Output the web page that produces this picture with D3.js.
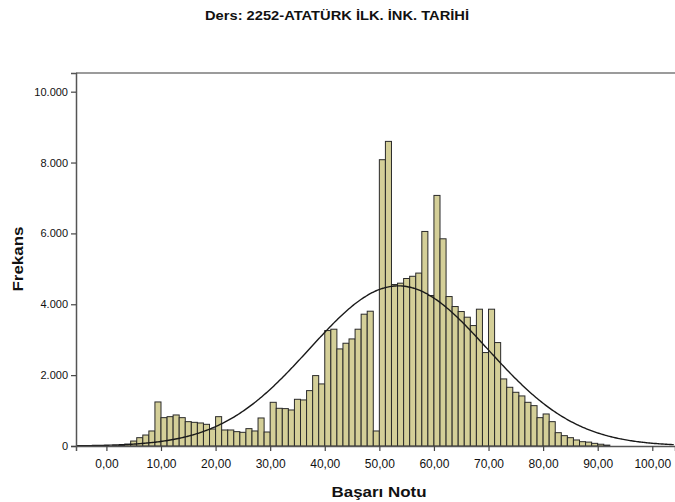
<!DOCTYPE html>
<html>
<head>
<meta charset="utf-8">
<script src="https://cdn.jsdelivr.net/npm/d3@7"></script>
<style>
  html, body { margin: 0; padding: 0; background: #fff; }
  svg { display: block; }
  text { font-family: "Liberation Sans", Arial, Helvetica, sans-serif; fill: #111; }
</style>
</head>
<body>
<svg id="chart" width="675" height="502"></svg>
<script>
// ---- data ----
const title = "Ders: 2252-ATATÜRK İLK. İNK. TARİHİ";
const xTitle = "Başarı Notu";
const yTitle = "Frekans";
const binWidth = 10 / 9;            // histogram bin width (score units)
const binOrigin = 0;                // first bin starts at 0,00
const counts = [
  0, 5, 15, 50, 140, 235, 310, 424, 1243, 800,
  828, 876, 800, 687, 668, 650, 612, 480, 828, 452,
  452, 405, 386, 490, 424, 791, 395, 1233, 1064, 1055,
  1017, 1318, 1300, 1563, 1987, 1752, 3258, 3296, 2740, 2900,
  3022, 3296, 3720, 3804, 424, 8080, 8597, 4557, 4595, 4727,
  4790, 4880, 6055, 4247, 7072, 5848, 4218, 3936, 3795, 3635,
  3399, 3861, 2637, 3861, 2919, 1893, 1657, 1516, 1413, 1233,
  1139, 800, 904, 687, 376, 292, 235, 170, 122, 110,
  75, 50, 25
];
const xTicks = [0, 10, 20, 30, 40, 50, 60, 70, 80, 90, 100];
const yTicks = [0, 2000, 4000, 6000, 8000, 10000];
// normal curve parameters
const curveMean = 53.5;
const curveSD = 16.3;
const curvePeak = 4520;

// ---- layout ----
const svg = d3.select("#chart");
const mLeft = 76, mRight = 675, mTop = 73, mBottom = 446;

const locale = d3.formatLocale({ decimal: ",", thousands: ".", grouping: [3], currency: ["", ""] });
const fmtY = locale.format(",d");
const fmtX = locale.format(".2f");

const x = d3.scaleLinear().domain([-5.57, 104.16]).range([mLeft, mRight]);
const y = d3.scaleLinear().domain([0, 10527]).range([mBottom, mTop]);

// bars
const bins = counts.map((c, i) => ({ x0: binOrigin + i * binWidth, x1: binOrigin + (i + 1) * binWidth, c }));
svg.append("g")
  .selectAll("rect")
  .data(bins.filter(d => d.c > 0))
  .join("rect")
  .attr("x", d => x(d.x0))
  .attr("width", d => x(d.x1) - x(d.x0))
  .attr("y", d => y(d.c))
  .attr("height", d => y(0) - y(d.c))
  .attr("fill", "#d4cf98")
  .attr("stroke", "#2a2a2a")
  .attr("stroke-width", 1);

// normal curve
const curvePts = d3.range(x.domain()[0], x.domain()[1] + 0.01, 0.25).map(v =>
  [v, curvePeak * Math.exp(-0.5 * Math.pow((v - curveMean) / curveSD, 2))]);
svg.append("path")
  .datum(curvePts)
  .attr("fill", "none")
  .attr("stroke", "#1a1a1a")
  .attr("stroke-width", 1.4)
  .attr("d", d3.line().x(d => x(d[0])).y(d => y(d[1])).curve(d3.curveBasis));

// frame top line
svg.append("line")
  .attr("x1", mLeft).attr("x2", mRight).attr("y1", mTop).attr("y2", mTop)
  .attr("stroke", "#7a7a7a").attr("stroke-width", 1.5);

// axes
const yAxis = d3.axisLeft(y).tickValues(yTicks).tickFormat(fmtY).tickSize(5).tickPadding(3);
const gy = svg.append("g").attr("transform", `translate(${mLeft},0)`).call(yAxis);
const xAxis = d3.axisBottom(x).tickValues(xTicks).tickFormat(fmtX).tickSize(5).tickPadding(8);
const gx = svg.append("g").attr("transform", `translate(0,${mBottom})`).call(xAxis);
[gx, gy].forEach(g => {
  g.select(".domain").attr("stroke", "#555").attr("stroke-width", 1.5);
  g.selectAll(".tick line").attr("stroke", "#444").attr("stroke-width", 1.2);
  g.selectAll(".tick text").attr("fill", "#222")
    .style("font-family", '"Liberation Sans", Arial, sans-serif');
});
gy.selectAll(".tick text").attr("font-size", 11);
gx.selectAll(".tick text").attr("font-size", 12);

// titles
svg.append("text").attr("x", 337).attr("y", 20).attr("text-anchor", "middle")
  .attr("font-size", 13).attr("font-weight", "bold")
  .attr("textLength", 264).attr("lengthAdjust", "spacingAndGlyphs").text(title);
svg.append("text").attr("x", 379).attr("y", 497).attr("text-anchor", "middle")
  .attr("font-size", 15.5).attr("font-weight", "bold")
  .attr("textLength", 95).attr("lengthAdjust", "spacingAndGlyphs").text(xTitle);
svg.append("text").attr("transform", `translate(23,259) rotate(-90)`).attr("text-anchor", "middle")
  .attr("font-size", 15.5).attr("font-weight", "bold")
  .attr("textLength", 65).attr("lengthAdjust", "spacingAndGlyphs").text(yTitle);
</script>
</body>
</html>
